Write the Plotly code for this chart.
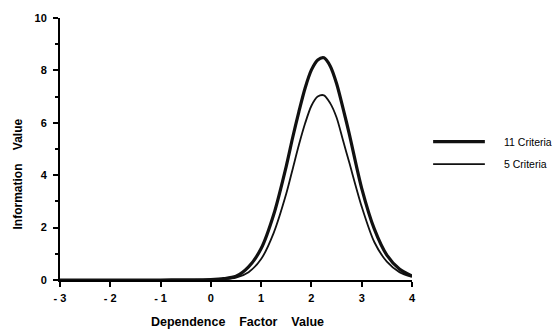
import plotly.graph_objects as go

# Data
x_vals = [-3, -2, -1, -0.5, 0, 0.25, 0.5, 0.75, 1.0, 1.25, 1.5, 1.625, 1.75, 1.875,
          2.0, 2.125, 2.25, 2.375, 2.5, 2.625, 2.75, 3.0, 3.25, 3.5, 3.75, 4.0]
criteria_11 = [0, 0, 0, 0.005, 0.02, 0.05, 0.14, 0.5, 1.2, 2.5, 4.35, 5.42, 6.42, 7.33,
               8.02, 8.4, 8.48, 8.16, 7.5, 6.58, 5.6, 3.5, 1.95, 0.95, 0.42, 0.15]
criteria_5 = [0, 0, 0, 0.005, 0.01, 0.03, 0.09, 0.3, 0.8, 1.8, 3.3, 4.22, 5.15, 5.98,
              6.65, 7.0, 7.05, 6.74, 6.2, 5.35, 4.5, 2.8, 1.45, 0.7, 0.3, 0.12]

series_names = ["11 Criteria", "5 Criteria"]
x_tickvals = [-3, -2, -1, 0, 1, 2, 3, 4]
x_ticktext = ["- 3", "- 2", "- 1", "0", "1", "2", "3", "4"]
y_tickvals = [0, 2, 4, 6, 8, 10]
y_ticktext = ["0", "2", "4", "6", "8", "10"]

fig = go.Figure()
fig.add_trace(go.Scatter(x=x_vals, y=criteria_11, mode="lines", name=series_names[0],
                         line=dict(color="#111111", width=3.2, shape="spline", smoothing=0.8),
                         showlegend=False))
fig.add_trace(go.Scatter(x=x_vals, y=criteria_5, mode="lines", name=series_names[1],
                         line=dict(color="#111111", width=1.8, shape="spline", smoothing=0.8),
                         showlegend=False))

FAMILY = "Liberation Sans, Arial, sans-serif"
tick_font = dict(family=FAMILY, size=11, color="black")

fig.update_xaxes(range=[-3, 4], tickvals=x_tickvals,
                 ticktext=["<b>" + t + "</b>" for t in x_ticktext],
                 showline=True, linecolor="black", linewidth=2, ticks="outside",
                 ticklen=5, tickwidth=1.5, tickcolor="black", showgrid=False,
                 zeroline=False, tickfont=tick_font, ticklabelstandoff=2)
fig.update_yaxes(range=[0, 10], tickvals=y_tickvals,
                 ticktext=["<b>" + t + "</b>" for t in y_ticktext],
                 showline=True, linecolor="black", linewidth=2, ticks="outside",
                 ticklen=5, tickwidth=1.5, tickcolor="black", showgrid=False,
                 zeroline=False, tickfont=tick_font, ticklabelstandoff=4,
                 minor=dict(dtick=1, ticks="outside", ticklen=3, tickwidth=1.5,
                            tickcolor="black", showgrid=False))

# Legend drawn by hand to match the long line samples
legend_y = [0.528, 0.442]
legend_w = [3.2, 1.8]
shapes = []
annotations = []
for name, yy, w in zip(series_names, legend_y, legend_w):
    shapes.append(dict(type="line", xref="paper", yref="paper", x0=1.06, x1=1.207,
                       y0=yy, y1=yy, line=dict(color="#111111", width=w)))
    annotations.append(dict(text=name, xref="paper", yref="paper", x=1.255, y=yy,
                            xanchor="left", yanchor="middle", showarrow=False,
                            font=dict(family=FAMILY, size=10.5, color="black")))

sp = "\u00a0" * 4
annotations.append(dict(text="<b>Dependence" + sp + "Factor" + sp + "Value</b>",
                        xref="paper", yref="paper", x=0.503, y=-0.162,
                        xanchor="center", yanchor="middle", showarrow=False,
                        font=dict(family=FAMILY, size=12.5, color="black")))
annotations.append(dict(text="<b>Information" + sp + "Value</b>",
                        xref="paper", yref="paper", x=-0.119, y=0.403,
                        xanchor="center", yanchor="middle", showarrow=False,
                        textangle=-90, font=dict(family=FAMILY, size=12, color="black")))

fig.update_layout(width=554, height=331, margin=dict(l=60, r=142, t=16, b=51),
                  paper_bgcolor="white", plot_bgcolor="white",
                  shapes=shapes, annotations=annotations)

fig.write_html("out.html")
